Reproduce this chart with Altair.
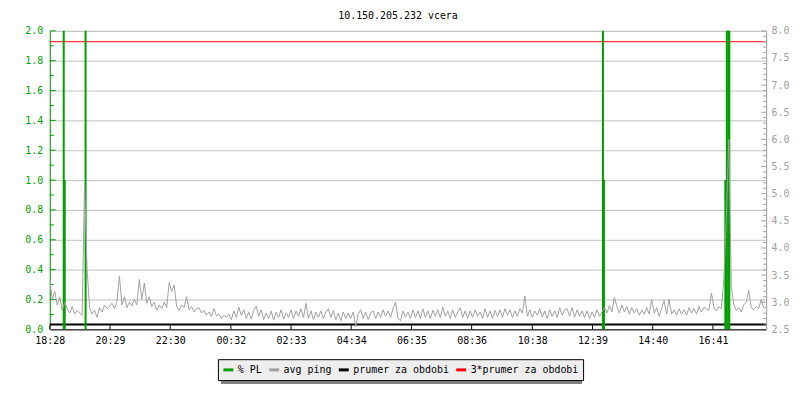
import altair as alt
import pandas as pd

# ---------------- data ----------------
title_text = "10.150.205.232 vcera"

series_names = ["% PL", "avg ping", "prumer za obdobi", "3*prumer za obdobi"]
series_colors = ["#00a000", "#a0a0a0", "#000000", "#ff0000"]

x_tick_minutes = [0, 121, 242, 364, 485, 606, 727, 848, 970, 1091, 1212, 1333]
x_tick_labels = ["18:28", "20:29", "22:30", "00:32", "02:33", "04:34",
                 "06:35", "08:36", "10:38", "12:39", "14:40", "16:41"]

sample_step_min = 5
ping_values = [
    3.42, 3.05, 3.20, 2.95, 3.10, 2.85, 3.00, 2.88, 2.80, 2.92, 2.78, 2.85,
    2.80, 2.76, 5.20, 3.60, 2.90, 2.78, 2.85, 2.72, 2.90, 2.82, 2.95, 2.88,
    2.92, 2.98, 2.88, 3.02, 3.48, 2.95, 3.10, 2.90, 3.00, 2.93, 3.05, 2.95,
    3.42, 3.05, 3.35, 2.98, 3.10, 2.92, 3.00, 2.85, 2.95, 2.88, 3.00, 2.90,
    3.36, 3.20, 3.32, 2.92, 2.85, 2.95, 2.90, 3.10, 2.86, 2.92, 2.82, 2.88,
    2.90, 2.80, 2.85, 2.76, 2.82, 2.74, 2.88, 2.75, 2.78, 2.70, 2.76, 2.72,
    2.78, 2.68, 2.84, 2.72, 2.91, 2.76, 2.86, 2.70, 2.82, 2.69, 2.85, 2.93,
    2.74, 2.86, 2.68, 2.80, 2.70, 2.84, 2.67, 2.82, 2.72, 2.86, 2.69, 2.80,
    2.72, 2.86, 2.70, 2.84, 2.74, 2.88, 2.72, 2.98, 2.70, 2.84, 2.68, 2.82,
    2.72, 2.84, 2.70, 2.82, 2.88, 2.72, 2.85, 2.68, 2.80, 2.66, 2.82, 2.70,
    2.80, 2.70, 2.82, 2.55, 2.78, 2.86, 2.70, 2.82, 2.68, 2.80, 2.84, 2.70,
    2.82, 2.72, 2.86, 2.74, 2.84, 2.72, 2.88, 3.00, 2.70, 2.66, 2.84, 2.72,
    2.82, 2.70, 2.86, 2.72, 2.84, 2.70, 2.88, 2.72, 2.84, 2.70, 2.85, 2.74,
    2.86, 2.72, 2.91, 2.74, 2.84, 2.70, 2.86, 2.72, 2.82, 2.90, 2.72, 2.84,
    2.70, 2.84, 2.72, 2.86, 2.74, 2.82, 2.70, 2.88, 2.72, 2.84, 2.70, 2.85,
    2.74, 2.86, 2.72, 2.88, 2.76, 2.86, 2.72, 2.84, 2.74, 2.88, 2.80, 3.11,
    2.74, 2.86, 2.72, 2.84, 2.76, 2.88, 2.72, 2.84, 2.70, 2.86, 2.74, 2.84,
    2.72, 2.90, 2.76, 2.86, 2.88, 2.74, 2.90, 2.72, 2.86, 2.74, 2.84, 2.72,
    2.84, 2.70, 2.82, 2.72, 2.86, 2.74, 2.82, 2.90, 2.80, 2.94, 2.82, 3.09,
    2.92, 2.80, 2.95, 2.82, 2.92, 2.78, 2.90, 2.80, 2.88, 2.76, 2.86, 2.78,
    2.90, 2.78, 3.05, 2.80, 2.90, 2.74, 2.88, 3.03, 2.78, 3.05, 2.78, 2.86,
    2.76, 2.88, 2.78, 2.86, 2.76, 2.90, 2.80, 2.88, 2.78, 2.92, 2.82, 2.90,
    2.88, 2.85, 3.17, 2.90, 2.84, 2.92, 2.88, 3.42, 4.60, 6.00, 3.30, 2.95,
    2.85, 2.90, 2.82, 2.95, 3.00, 3.22, 2.90, 2.86, 2.92, 2.88, 3.05, 2.90,
]

pl_minutes = [28, 30, 72, 1112, 1114, 1358, 1361, 1364, 1366]
pl_values = [3.0, 1.0, 3.0, 3.0, 1.0, 1.0, 3.0, 3.0, 3.0]

prumer_value = 2.59
prumer3_value = 7.8

left_major = [round(0.2 * i, 1) for i in range(1, 11)]
left_minor = [round(0.1 + 0.2 * i, 1) for i in range(10)]
left_labels = [round(0.2 * i, 1) for i in range(11)]
right_labels = [round(2.5 + 0.5 * i, 1) for i in range(12)]
right_minor = [round(2.5 + 0.1 * i, 1) for i in range(56) if i % 5 != 0]
right_major = [round(2.5 + 0.5 * i, 1) for i in range(1, 12)]

# ---------------- tables ----------------
ping_df = pd.DataFrame({
    "m": [i * sample_step_min for i in range(len(ping_values))],
    "v": ping_values,
    "series": "avg ping",
})
pl_df = pd.DataFrame({"m": pl_minutes, "v": pl_values, "series": "% PL"})
hr_df = pd.DataFrame({"v": [prumer_value, prumer3_value],
                      "series": ["prumer za obdobi", "3*prumer za obdobi"]})
xt_df = pd.DataFrame({"m": x_tick_minutes})
lmaj_df = pd.DataFrame({"v": left_major})
lmin_df = pd.DataFrame({"v": left_minor})
rmaj_df = pd.DataFrame({"v": right_major})
rmin_df = pd.DataFrame({"v": right_minor})
one_df = pd.DataFrame({"a": [0]})

# ---------------- style ----------------
FONT = "DejaVu Sans Mono"
GREEN = "#00a000"
GRAY = "#a0a0a0"
W, H = 720, 300

x_scale = alt.Scale(domain=[0, 1440], nice=False, zero=False)
label_expr = "[" + ",".join("'%s'" % s for s in x_tick_labels) + "][indexof([" + \
    ",".join(str(v) for v in x_tick_minutes) + "], datum.value)]"
x_axis = alt.Axis(values=x_tick_minutes, labelExpr=label_expr, ticks=False, tickSize=0,
                  grid=False, domainColor="#000000", domainWidth=1, labelFont=FONT,
                  labelFontSize=10, labelColor="#000000", labelPadding=6, title=None,
                  labelFlush=False, labelOverlap=False)
X = alt.X("m:Q", scale=x_scale, axis=x_axis)

left_scale = alt.Scale(domain=[0, 2], nice=False, zero=False)
right_scale = alt.Scale(domain=[2.5, 8], nice=False, zero=False)

left_axis = alt.Axis(orient="left", values=left_labels, format=".1f", ticks=False,
                     tickSize=0, grid=True, gridColor="#c0c0c0", gridWidth=1,
                     domainColor=GREEN, domainWidth=1, labelColor=GREEN, labelFont=FONT,
                     labelFontSize=10, labelPadding=7, title=None, labelFlush=False)
right_axis = alt.Axis(orient="right", values=right_labels, format=".1f", ticks=False,
                      tickSize=0, grid=False, domainColor=GRAY, domainWidth=1,
                      labelColor=GRAY, labelFont=FONT, labelFontSize=10, labelPadding=5,
                      title=None, labelFlush=False)

legend = alt.Legend(orient="none", legendX=169, legendY=330, direction="horizontal",
                    title=None, symbolType="stroke", symbolStrokeWidth=3, symbolSize=100,
                    labelFont=FONT, labelFontSize=10, labelColor="#000000",
                    fillColor="#eeeeee", strokeColor="#000000", padding=4,
                    columnPadding=0, labelOffset=3)
color = alt.Color("series:N", scale=alt.Scale(domain=series_names, range=series_colors),
                  legend=legend)

# ---------------- layer 1: left scale decorations ----------------
shadow = alt.Chart(one_df).mark_rect(color="#808080").encode(
    x=alt.value(172), x2=alt.value(535), y=alt.value(333), y2=alt.value(355))
lmaj = alt.Chart(lmaj_df).mark_rule(color=GREEN, strokeWidth=1).encode(
    y=alt.Y("v:Q", scale=left_scale, axis=left_axis), x=alt.value(0), x2=alt.value(6))
lmin = alt.Chart(lmin_df).mark_rule(color=GREEN, strokeWidth=1).encode(
    y=alt.Y("v:Q", scale=left_scale, axis=left_axis), x=alt.value(0), x2=alt.value(4))
xt = alt.Chart(xt_df).mark_rule(color="#000000", strokeWidth=1).encode(
    x=X, y=alt.value(H - 4), y2=alt.value(H))
layer1 = alt.layer(shadow, lmaj, lmin, xt)

# ---------------- layer 2: hrules (right scale) ----------------
hr_black = alt.Chart(hr_df).transform_filter(alt.datum.series == "prumer za obdobi").mark_rule(
    strokeWidth=2).encode(y=alt.Y("v:Q", scale=right_scale, axis=None), color=color)
hr_red = alt.Chart(hr_df).transform_filter(alt.datum.series == "3*prumer za obdobi").mark_rule(
    strokeWidth=1).encode(y=alt.Y("v:Q", scale=right_scale, axis=None), color=color)
layer2 = alt.layer(hr_black, hr_red)

# ---------------- layer 3: packet loss (left scale) ----------------
layer3 = alt.Chart(pl_df).mark_rule(strokeWidth=2, clip=True).encode(
    x=X, y=alt.Y("v:Q", scale=left_scale, axis=None), y2=alt.datum(0), color=color)

# ---------------- layer 4: ping (right scale) ----------------
ping = alt.Chart(ping_df).mark_line(strokeWidth=1, clip=True).encode(
    x=X, y=alt.Y("v:Q", scale=right_scale, axis=right_axis), color=color)
rmaj = alt.Chart(rmaj_df).mark_rule(color=GRAY, strokeWidth=1).encode(
    y=alt.Y("v:Q", scale=right_scale, axis=right_axis), x=alt.value(W - 5), x2=alt.value(W))
rmin = alt.Chart(rmin_df).mark_rule(color=GRAY, strokeWidth=1).encode(
    y=alt.Y("v:Q", scale=right_scale, axis=right_axis), x=alt.value(W - 3), x2=alt.value(W))
layer4 = alt.layer(ping, rmaj, rmin)

chart = alt.layer(layer1, layer2, layer3, layer4).resolve_scale(
    y="independent"
).properties(
    width=W, height=H,
    title=alt.TitleParams(title_text, font=FONT, fontSize=10, fontWeight="normal",
                          color="#000000", anchor="middle", dx=-10, offset=5),
    autosize=alt.AutoSizeParams(type="none"),
    padding={"left": 42, "top": 22, "right": 26, "bottom": 62},
).configure_view(stroke="transparent").configure(background="#ffffff")

chart.save("out.html", embed_options={"renderer": "svg", "actions": False})
